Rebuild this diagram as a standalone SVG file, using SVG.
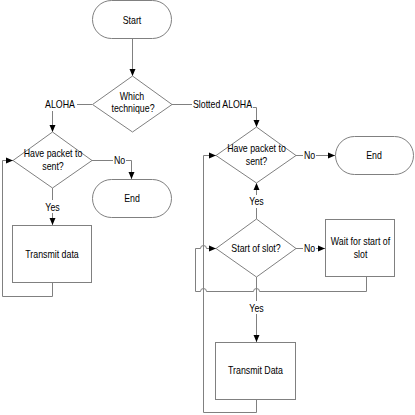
<svg xmlns="http://www.w3.org/2000/svg" width="415" height="415" viewBox="0 0 415 415">
<style>
.s{fill:#fff;stroke:#808080;stroke-width:1}
.c{fill:none;stroke:#808080;stroke-width:1}
.a{marker-end:url(#ar)}
text{font-family:"Liberation Sans",Arial,sans-serif;font-size:11px;fill:#000;text-anchor:middle}
</style>
<defs>
<marker id="ar" markerUnits="userSpaceOnUse" markerWidth="8" markerHeight="8" refX="7" refY="4" orient="auto">
<path d="M0,1 L7,4 L0,7 Z" fill="#000"/>
</marker>
</defs>
<rect width="415" height="415" fill="#fff"/>
<g id="connectors">
<path class="c a" d="M132.5 38 V76"/>
<path class="c" d="M92 104.5 H77"/>
<path class="c a" d="M52.5 111 V132"/>
<path class="c" d="M172 104.5 H192"/>
<path class="c a" d="M253 107.5 H256.5 V127"/>
<path class="c" d="M92 160.5 H113"/>
<path class="c a" d="M126 160.5 H131.5 V179"/>
<path class="c" d="M52.5 188 V200"/>
<path class="c a" d="M52.5 213 V225"/>
<path class="c a" d="M52.5 283 V296.5 H2.5 V160.5 H13"/>
<path class="c" d="M296 155.5 H303"/>
<path class="c a" d="M316 155.5 H335"/>
<path class="c" d="M256.5 219 V208"/>
<path class="c a" d="M256.5 195 V183"/>
<path class="c" d="M296 248.5 H303"/>
<path class="c a" d="M316 248.5 H325"/>
<path class="c a" d="M366.5 277 V291.5 H259.5 a3 3 0 0 0 -6 0 H206.5 a3 3 0 0 0 -6 0 H195.5 V248.5 H200.5 a3 3 0 0 1 6 0 H216"/>
<path class="c" d="M256.5 277 V301"/>
<path class="c a" d="M256.5 314 V342"/>
<path class="c a" d="M256.5 399 V412.5 H203.5 V155.5 H216"/>
</g>
<g id="labels">
<text transform="translate(60 108) scale(.8 1)">ALOHA</text>
<text transform="translate(222.5 108) scale(.8 1)">Slotted ALOHA</text>
<text transform="translate(119.5 164) scale(.8 1)">No</text>
<text transform="translate(52.5 210.5) scale(.8 1)">Yes</text>
<text transform="translate(309.5 159) scale(.8 1)">No</text>
<text transform="translate(256.5 205) scale(.8 1)">Yes</text>
<text transform="translate(309.5 252) scale(.8 1)">No</text>
<text transform="translate(256.5 312) scale(.8 1)">Yes</text>
</g>
<g id="start">
<rect class="s" x="92.5" y="0.5" width="79" height="38" rx="19"/>
<text transform="translate(132 24) scale(.8 1)">Start</text>
</g>
<g id="which">
<polygon class="s" points="132.5,76 172,104.5 132.5,132 92.5,104.5"/>
<text transform="translate(132 100) scale(.8 1)">Which</text>
<text transform="translate(133 112) scale(.8 1)">technique?</text>
</g>
<g id="have1">
<polygon class="s" points="52.5,132 92,160.5 52.5,188 13,160.5"/>
<text transform="translate(53 157) scale(.8 1)">Have packet to</text>
<text transform="translate(53 169.5) scale(.8 1)">sent?</text>
</g>
<g id="end1">
<rect class="s" x="92.5" y="179.5" width="79" height="38" rx="19"/>
<text transform="translate(132 202) scale(.8 1)">End</text>
</g>
<g id="tx1">
<rect class="s" x="12.5" y="225.5" width="79" height="57"/>
<text transform="translate(52 258) scale(.8 1)">Transmit data</text>
</g>
<g id="have2">
<polygon class="s" points="256.5,127 296,155.5 256.5,183 216,155.5"/>
<text transform="translate(256.5 152) scale(.8 1)">Have packet to</text>
<text transform="translate(256.5 164.5) scale(.8 1)">sent?</text>
</g>
<g id="end2">
<rect class="s" x="335.5" y="136.5" width="78" height="38" rx="19"/>
<text transform="translate(374 159) scale(.8 1)">End</text>
</g>
<g id="slot">
<polygon class="s" points="256.5,219 296,248.5 256.5,277 216,248.5"/>
<text transform="translate(256 251.5) scale(.8 1)">Start of slot?</text>
</g>
<g id="wait">
<rect class="s" x="325.5" y="219.5" width="69" height="57"/>
<text transform="translate(360.5 245) scale(.8 1)">Wait for start of</text>
<text transform="translate(360.5 258) scale(.8 1)">slot</text>
</g>
<g id="tx2">
<rect class="s" x="215.5" y="342.5" width="80" height="57"/>
<text transform="translate(255.5 374) scale(.8 1)">Transmit Data</text>
</g>
</svg>
